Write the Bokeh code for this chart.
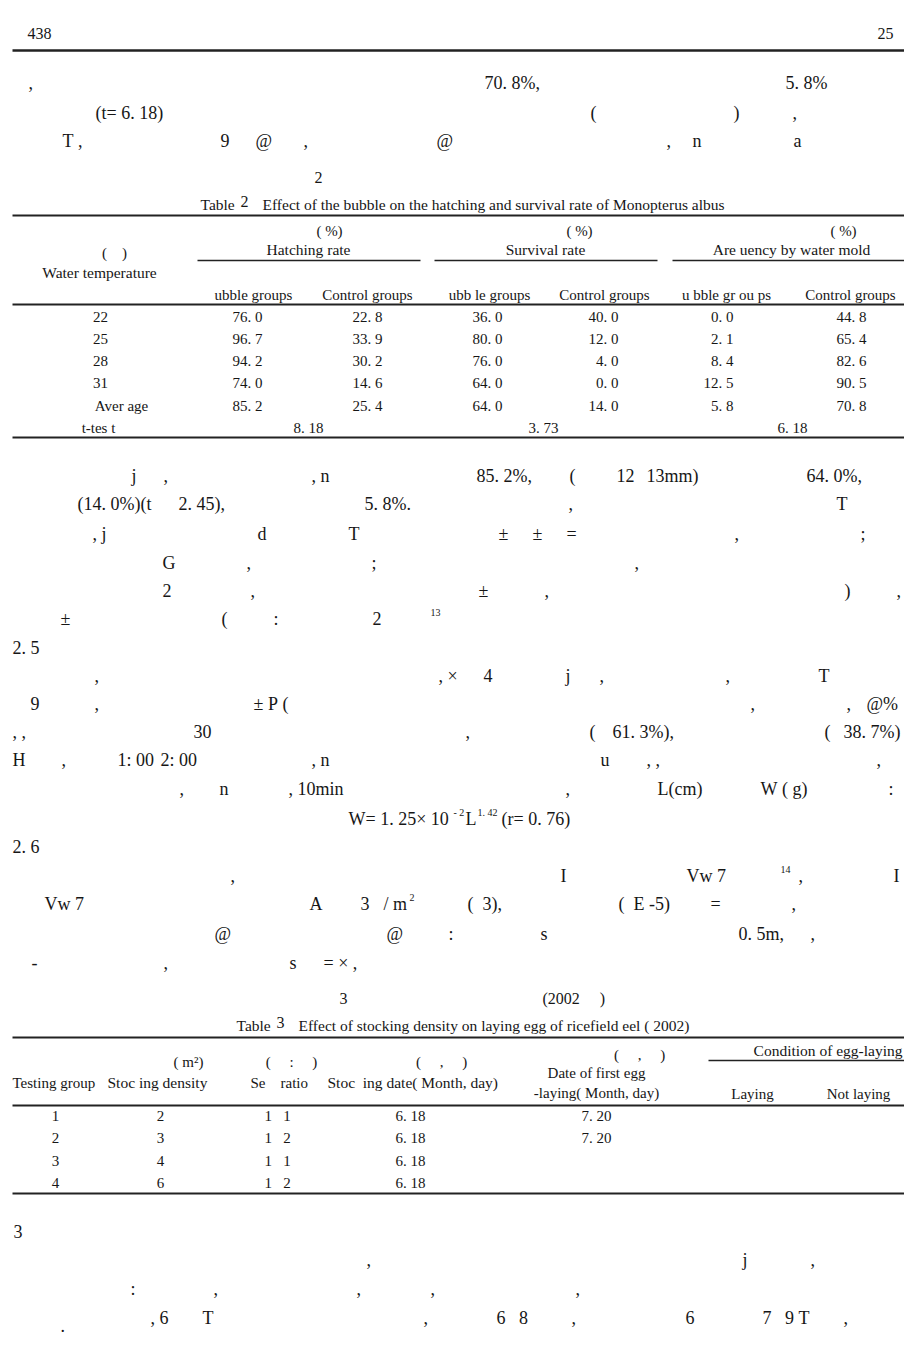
from bokeh.plotting import figure
from bokeh.models import Range1d, ColumnDataSource
from bokeh.core.properties import value
from bokeh.embed import file_html
from bokeh.resources import INLINE

# ---------------- data: Table 2 ----------------
row_labels = ["22", "25", "28", "31", "Aver age"]
hatch_bubble = [76.0, 96.7, 94.2, 74.0, 85.2]
hatch_control = [22.8, 33.9, 30.2, 14.6, 25.4]
surv_bubble = [36.0, 80.0, 76.0, 64.0, 64.0]
surv_control = [40.0, 12.0, 4.0, 0.0, 14.0]
mold_bubble = [0.0, 2.1, 8.4, 12.5, 5.8]
mold_control = [44.8, 65.4, 82.6, 90.5, 70.8]
t_test = [8.18, 3.73, 6.18]
group_titles = ["Hatching rate", "Survival rate", "Are uency by water mold"]
sub_titles = ["ubble groups", "Control groups", "ubb le groups", "Control groups", "u bble gr ou ps", "Control groups"]

# ---------------- data: Table 3 ----------------
test_group = ["1", "2", "3", "4"]
stock_density = ["2", "3", "4", "6"]
sex_ratio = ["1   1", "1   2", "1   1", "1   2"]
stock_date = ["6. 18", "6. 18", "6. 18", "6. 18"]
first_egg = ["7. 20", "7. 20", "", ""]


def f1(v):
    return f"{v:.1f}".replace(".", ". ")


def f2(v):
    return f"{v:.2f}".replace(".", ". ")


SERIF = "Liberation Serif"
INK = "#161616"

p = figure(width=904, height=1337, x_range=Range1d(0, 904), y_range=Range1d(1337, 0),
           output_backend="svg", toolbar_location=None, min_border=0,
           background_fill_color="white", border_fill_color="white")
p.axis.visible = False
p.grid.visible = False
p.outline_line_color = None

groups = {}


def T(x, y, s, size=18, align="left"):
    key = (size, align)
    g = groups.setdefault(key, {"x": [], "y": [], "t": []})
    g["x"].append(x)
    g["y"].append(y)
    g["t"].append(s.replace(" ", "\u00a0"))


def rule(x0, x1, y, w=2.0):
    p.segment(x0=[x0], y0=[y], x1=[x1], y1=[y], line_color="#222", line_width=w)


# ---------------- page header ----------------
T(27, 33, "438", 16)
T(893, 33, "25", 16, "right")
rule(12, 904, 50, 2.5)

# ---------------- body text fragments (layout) ----------------
BODY = [
    (28, 82, ","), (484, 82, "70. 8%,"), (785, 82, "5. 8%"),
    (95, 112, "(t= 6. 18)"), (590, 112, "("), (733, 112, ")"), (792, 112, ","),
    (62, 140, "T ,"), (220, 140, "9"), (255, 140, "@"), (303, 140, ","), (436, 140, "@"),
    (666, 140, ","), (692, 140, "n"), (793, 140, "a"),
    (131, 475, "j"), (163, 475, ","), (311, 475, ", n"), (476, 475, "85. 2%,"), (569, 475, "("),
    (616, 475, "12"), (646, 475, "13mm)"), (806, 475, "64. 0%,"),
    (77, 503, "(14. 0%)(t      2. 45),"), (364, 503, "5. 8%."), (568, 503, ","), (836, 503, "T"),
    (92, 533, ", j"), (257, 533, "d"), (348, 533, "T"), (498, 533, "\u00b1"), (532, 533, "\u00b1"),
    (566, 533, "="), (734, 533, ","), (860, 533, ";"),
    (162, 562, "G"), (246, 562, ","), (371, 562, ";"), (634, 562, ","),
    (162, 590, "2"), (250, 590, ","), (478, 590, "\u00b1"), (544, 590, ","), (844, 590, ")"), (896, 590, ","),
    (60, 618, "\u00b1"), (221, 618, "("), (273, 618, ":"), (372, 618, "2"),
    (12, 647, "2. 5"),
    (94, 675, ","), (438, 675, ", \u00d7"), (483, 675, "4"), (565, 675, "j"), (599, 675, ","),
    (725, 675, ","), (818, 675, "T"),
    (30, 703, "9"), (94, 703, ","), (253, 703, "\u00b1 P ("), (750, 703, ","), (846, 703, ","), (866, 703, "@%"),
    (12, 731, ", ,"), (193, 731, "30"), (465, 731, ","), (589, 731, "("), (612, 731, "61. 3%),"),
    (824, 731, "("), (843, 731, "38. 7%)"),
    (12, 759, "H"), (61, 759, ","), (117, 759, "1: 00"), (160, 759, "2: 00"), (311, 759, ", n"),
    (600, 759, "u"), (646, 759, ", ,"), (876, 759, ","),
    (179, 788, ","), (219, 788, "n"), (288, 788, ", 10min"), (565, 788, ","), (657, 788, "L(cm)"),
    (760, 788, "W ( g)"), (888, 788, ":"),
    (348, 818, "W= 1. 25\u00d7 10"), (465, 818, "L"), (501, 818, "(r= 0. 76)"),
    (12, 846, "2. 6"),
    (230, 875, ","), (560, 875, "I"), (686, 875, "Vw 7"), (798, 875, ","), (893, 875, "I"),
    (44, 903, "Vw 7"), (309, 903, "A"), (360, 903, "3"), (383, 903, "/ m"), (467, 903, "(  3),"),
    (618, 903, "(  E -5)"), (710, 903, "="), (791, 903, ","),
    (214, 933, "@"), (386, 933, "@"), (448, 933, ":"), (540, 933, "s"), (738, 933, "0. 5m,"), (810, 933, ","),
    (31, 962, "-"), (163, 962, ","), (289, 962, "s      = \u00d7 ,"),
    (13, 1231, "3"),
    (366, 1259, ","), (742, 1259, "j"), (810, 1259, ","),
    (130, 1288, ":"), (213, 1288, ","), (356, 1288, ","), (430, 1288, ","), (575, 1288, ","),
    (150, 1317, ", 6"), (202, 1317, "T"), (423, 1317, ","), (496, 1317, "6   8"), (571, 1317, ","),
    (685, 1317, "6"), (762, 1317, "7   9 T"), (843, 1317, ","),
    (60, 1325, "."),
]
for x, y, s in BODY:
    T(x, y, s, 18)

SUPS = [(430, 612, "13"), (453, 812, "- 2"), (477, 812, "1. 42"), (780, 869, "14"), (409, 897, "2")]
for x, y, s in SUPS:
    T(x, y, s, 10)

# ---------------- Table 2 ----------------
T(318, 177, "2", 16, "center")
T(200, 204, "Table", 15.5)
T(240, 201, "2", 16)
T(262, 204, "Effect of the bubble on the hatching and survival rate of Monopterus albus", 15.5)
rule(12, 904, 215, 2.0)
grp_centers = [308, 545, 791]
pct_centers = [329, 579, 843]
for c, pc, gt in zip(grp_centers, pct_centers, group_titles):
    T(pc, 230, "( %)", 15, "center")
    T(c, 249, gt, 15.5, "center")
for x0, x1 in [(197, 420), (434, 657), (672, 904)]:
    rule(x0, x1, 260, 1.5)
T(114, 252, "(    )", 15, "center")
T(99, 272, "Water temperature", 15.5, "center")
sub_centers = [253, 367, 489, 604, 726, 850]
for c, s in zip(sub_centers, sub_titles):
    T(c, 294, s, 15, "center")
rule(12, 904, 304, 2.0)

row_y0, row_dy = 316, 22.3
for i, lab in enumerate(row_labels):
    y = row_y0 + i * row_dy
    T(121 if i == 4 else 100, y, lab, 15, "center")
    T(247, y, f1(hatch_bubble[i]), 15, "center")
    T(367, y, f1(hatch_control[i]), 15, "center")
    T(487, y, f1(surv_bubble[i]), 15, "center")
    T(618, y, f1(surv_control[i]), 15, "right")
    T(733, y, f1(mold_bubble[i]), 15, "right")
    T(851, y, f1(mold_control[i]), 15, "center")
y_t = row_y0 + 5 * row_dy
T(98, y_t, "t-tes t", 15, "center")
for c, v in zip([308, 543, 792], t_test):
    T(c, y_t, f2(v), 15, "center")
rule(12, 904, 437, 2.0)

# ---------------- Table 3 ----------------
T(343, 998, "3", 16, "center")
T(542, 998, "(2002     )", 16)
T(236, 1025, "Table", 15.5)
T(276, 1022, "3", 16)
T(298, 1025, "Effect of stocking density on laying egg of ricefield eel ( 2002)", 15.5)
rule(12, 904, 1037, 2.0)
T(188, 1061, "( m\u00b2)", 15, "center")
T(291, 1061, "(     :     )", 15, "center")
T(441, 1061, "(     ,     )", 15, "center")
T(639, 1054, "(     ,     )", 15, "center")
T(902, 1050, "Condition of egg-laying", 15.5, "right")
rule(708, 904, 1060, 1.5)
T(12, 1082, "Testing group", 15)
T(107, 1082, "Stoc ing density", 15.5)
T(250, 1082, "Se    ratio", 15)
T(327, 1082, "Stoc  ing date( Month, day)", 15.5)
T(596, 1072, "Date of first egg", 15, "center")
T(596, 1092, "-laying( Month, day)", 15, "center")
T(752, 1093, "Laying", 15, "center")
T(858, 1093, "Not laying", 15, "center")
rule(12, 904, 1105, 2.0)
t3_y0, t3_dy = 1115, 22.6
for i in range(len(test_group)):
    y = t3_y0 + i * t3_dy
    T(55, y, test_group[i], 15, "center")
    T(160, y, stock_density[i], 15, "center")
    T(277, y, sex_ratio[i], 15, "center")
    T(410, y, stock_date[i], 15, "center")
    if first_egg[i]:
        T(596, y, first_egg[i], 15, "center")
rule(12, 904, 1193, 2.0)

# ---------------- draw all texts ----------------
for (size, align), g in groups.items():
    src = ColumnDataSource(dict(x=g["x"], y=g["y"], t=g["t"]))
    p.text(x="x", y="y", text="t", source=src, text_font=value(SERIF),
           text_font_size=f"{size}px", text_align=align, text_baseline="middle",
           text_color=INK)

open("out.html", "w").write(file_html(p, INLINE))
